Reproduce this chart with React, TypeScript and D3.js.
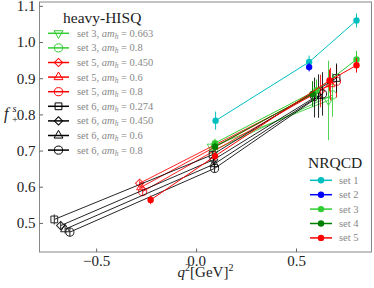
import React from "react";
import * as d3 from "d3";

// each point: [q2, f+, error]
type Pt = [number, number, number];

const hisqLabels = [
  ["3", "0.663"],
  ["3", "0.8"],
  ["5", "0.450"],
  ["5", "0.6"],
  ["5", "0.8"],
  ["6", "0.274"],
  ["6", "0.450"],
  ["6", "0.6"],
  ["6", "0.8"],
];
const hisqColors = ["#33cc33", "#33cc33", "#ff0000", "#ff0000", "#ff0000", "#000", "#000", "#000", "#000"];
const hisqMarkers = ["tridown", "circle", "diamond", "triup", "circle", "square", "diamond", "triup", "circle"];

const set3_0663: Pt[] = [[0.075, 0.712, 0.01], [0.66, 0.84, 0.11]];
const set3_08: Pt[] = [[0.085, 0.702, 0.01], [0.68, 0.855, 0.06]];
const set5_0450: Pt[] = [[-0.285, 0.611, 0.008], [0.62, 0.866, 0.045]];
const set5_06: Pt[] = [[-0.278, 0.6, 0.008], [0.67, 0.885, 0.045]];
const set5_08: Pt[] = [[-0.27, 0.588, 0.009], [0.7, 0.893, 0.045]];
const set6_0274: Pt[] = [[-0.712, 0.511, 0.014], [0.08, 0.69, 0.01], [0.7, 0.902, 0.04]];
const set6_0450: Pt[] = [[-0.68, 0.494, 0.012], [0.085, 0.676, 0.01], [0.59, 0.848, 0.055]];
const set6_06: Pt[] = [[-0.658, 0.484, 0.012], [0.088, 0.664, 0.01], [0.61, 0.852, 0.06]];
const set6_08: Pt[] = [[-0.634, 0.476, 0.013], [0.09, 0.652, 0.012], [0.63, 0.858, 0.06]];
const hisqData = [set3_0663, set3_08, set5_0450, set5_06, set5_08, set6_0274, set6_0450, set6_06, set6_08];

const nrqcdLabels = ["set 1", "set 2", "set 3", "set 4", "set 5"];
const nrqcdColors = ["#00bfbf", "#0000ff", "#32cd32", "#008000", "#ff0000"];
const nrqcdSet1: Pt[] = [[0.095, 0.784, 0.025], [0.563, 0.946, 0.018], [0.8, 1.061, 0.019]];
const nrqcdSet2: Pt[] = [[0.563, 0.932, 0.012]];
const nrqcdSet3: Pt[] = [[0.092, 0.722, 0.012], [0.6, 0.868, 0.03], [0.8, 0.953, 0.024]];
const nrqcdSet4: Pt[] = [[0.092, 0.712, 0.012], [0.58, 0.858, 0.035]];
const nrqcdSet5: Pt[] = [[-0.23, 0.565, 0.012], [0.092, 0.686, 0.012], [0.665, 0.895, 0.03], [0.8, 0.937, 0.02]];
const nrqcdData = [nrqcdSet1, nrqcdSet2, nrqcdSet3, nrqcdSet4, nrqcdSet5];

const xTicks = [-0.5, 0, 0.5];
const yTicks = [0.5, 0.6, 0.7, 0.8, 0.9, 1.0, 1.1];

const W = 374;
const H = 288;
const serif = "Liberation Serif, DejaVu Serif, serif";

const x = d3.scaleLinear().domain([-0.786, 0.875]).range([39.5, 371.5]);
const y = d3.scaleLinear().domain([0.421, 1.112]).range([252, 2]);

const symbolPath = (kind: string): { d: string; rot: number } => {
  if (kind === "circle") return { d: d3.symbol(d3.symbolCircle, 52)()!, rot: 0 };
  if (kind === "square") return { d: d3.symbol(d3.symbolSquare, 46)()!, rot: 0 };
  if (kind === "diamond") return { d: d3.symbol(d3.symbolSquare, 34)()!, rot: 45 };
  if (kind === "triup") return { d: d3.symbol(d3.symbolTriangle, 34)()!, rot: 0 };
  return { d: d3.symbol(d3.symbolTriangle, 34)()!, rot: 180 };
};

const Marker = ({ kind, cx, cy, color }: { kind: string; cx: number; cy: number; color: string }) => {
  const s = symbolPath(kind);
  return (
    <path
      d={s.d}
      transform={`translate(${cx},${cy}) rotate(${s.rot})`}
      fill="none"
      stroke={color}
      strokeWidth={1}
    />
  );
};

const line = d3
  .line<Pt>()
  .x((d) => x(d[0]))
  .y((d) => y(d[1]));

export default function App() {
  return (
    <svg width={W} height={H} style={{ position: "absolute", left: 0, top: 0, background: "#fff" }}>
      {/* heavy-HISQ series */}
      {hisqData.map((s, i) => (
        <g key={"h" + i} opacity={0.85}>
          <path d={line(s)!} fill="none" stroke={hisqColors[i]} strokeWidth={1} />
          {s.map((p, j) => (
            <line key={j} x1={x(p[0])} x2={x(p[0])} y1={y(p[1] - p[2])} y2={y(p[1] + p[2])} stroke={hisqColors[i]} strokeWidth={1} />
          ))}
          {s.map((p, j) => (
            <Marker key={"m" + j} kind={hisqMarkers[i]} cx={x(p[0])} cy={y(p[1])} color={hisqColors[i]} />
          ))}
        </g>
      ))}

      {/* NRQCD series */}
      {nrqcdData.map((s, i) => (
        <g key={"n" + i}>
          <path d={line(s)!} fill="none" stroke={nrqcdColors[i]} strokeWidth={1} />
          {s.map((p, j) => (
            <line key={j} x1={x(p[0])} x2={x(p[0])} y1={y(p[1] - p[2])} y2={y(p[1] + p[2])} stroke={nrqcdColors[i]} strokeWidth={1} />
          ))}
          {s.map((p, j) => (
            <circle key={"c" + j} cx={x(p[0])} cy={y(p[1])} r={3.2} fill={nrqcdColors[i]} />
          ))}
        </g>
      ))}

      {/* frame */}
      <rect x={39.5} y={2} width={332} height={250} fill="none" stroke="#888" strokeWidth={1} />

      {/* axes ticks */}
      {xTicks.map((t) => (
        <g key={"x" + t}>
          <line x1={x(t)} x2={x(t)} y1={252} y2={248.5} stroke="#666" />
          <text x={x(t)} y={266} textAnchor="middle" fontFamily={serif} fontSize={15} fill="#222">
            {t < 0 ? "\u2212" + Math.abs(t).toFixed(1) : t.toFixed(1)}
          </text>
        </g>
      ))}
      {yTicks.map((t) => (
        <g key={"y" + t}>
          <line x1={39.5} x2={43} y1={y(t)} y2={y(t)} stroke="#666" />
          <text x={35.5} y={y(t) + 4.8} textAnchor="end" fontFamily={serif} fontSize={15} fill="#222">
            {t.toFixed(1)}
          </text>
        </g>
      ))}

      {/* axis labels */}
      <text x={205.5} y={276.5} textAnchor="middle" fontFamily={serif} fontSize={15} fill="#222">
        <tspan fontStyle="italic">q</tspan>
        <tspan dy={-6} fontSize={10}>2</tspan>
        <tspan dy={6}>[GeV]</tspan>
        <tspan dy={-6} fontSize={10}>2</tspan>
      </text>
      <text x={4} y={119} fontFamily={serif} fontSize={16} fill="#222" fontStyle="italic">f</text>
      <text x={12.5} y={112} fontFamily={serif} fontSize={10.5} fill="#222" fontStyle="italic">s</text>
      <text x={12} y={123} fontFamily={serif} fontSize={10.5} fill="#222">+</text>

      {/* heavy-HISQ legend */}
      <text x={63} y={23} fontFamily={serif} fontSize={15.5} fill="#222">heavy-HISQ</text>
      {hisqLabels.map((l, i) => {
        const ry = 33.3 + i * 14.6;
        return (
          <g key={"lh" + i}>
            <line x1={48} x2={69} y1={ry} y2={ry} stroke={hisqColors[i]} strokeWidth={1.5} />
            <Marker kind={hisqMarkers[i]} cx={58.5} cy={ry} color={hisqColors[i]} />
            <text x={77} y={ry + 3.5} fontFamily={serif} fontSize={10.5} fill="#888">
              {`set ${l[0]}, `}
              <tspan fontStyle="italic">am</tspan>
              <tspan fontStyle="italic" fontSize={7.5} dy={2}>h</tspan>
              <tspan dy={-2}>{` = ${l[1]}`}</tspan>
            </text>
          </g>
        );
      })}

      {/* NRQCD legend */}
      <text x={308} y={168} fontFamily={serif} fontSize={15.5} fill="#222">NRQCD</text>
      {nrqcdLabels.map((l, i) => {
        const ry = 180.3 + i * 14.4;
        return (
          <g key={"ln" + i}>
            <line x1={310} x2={332} y1={ry} y2={ry} stroke={nrqcdColors[i]} strokeWidth={1.5} />
            <circle cx={321} cy={ry} r={3.2} fill={nrqcdColors[i]} />
            <text x={339} y={ry + 3.5} fontFamily={serif} fontSize={10.5} fill="#888">{l}</text>
          </g>
        );
      })}
    </svg>
  );
}
